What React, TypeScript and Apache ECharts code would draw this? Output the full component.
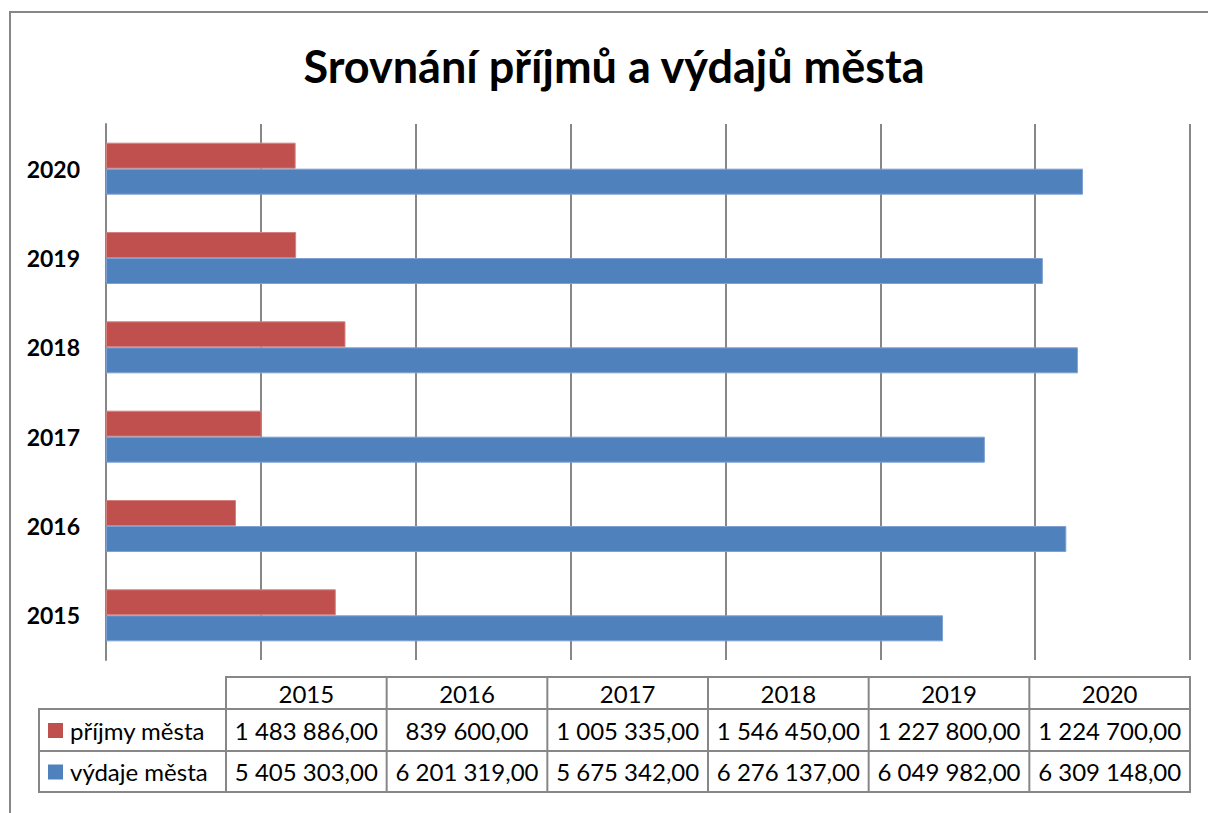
import React, { useEffect, useRef } from "react";
import * as echarts from "echarts";

const titleText = "Srovnání příjmů a výdajů města";
const years = ["2015", "2016", "2017", "2018", "2019", "2020"];
const seriesNames = ["příjmy města", "výdaje města"];
const prijmy = [1483886, 839600, 1005335, 1546450, 1227800, 1224700];
const vydaje = [5405303, 6201319, 5675342, 6276137, 6049982, 6309148];
const xTicks = { min: 0, max: 7000000, interval: 1000000 };

const RED = "#C0504D";
const BLUE = "#4F81BD";
const GRAY = "#878787";
const FONT = "Lato, 'Open Sans', sans-serif";

function fmt(v: number): string {
  const [intPart, dec] = v.toFixed(2).split(".");
  const groups: string[] = [];
  for (let i = intPart.length; i > 0; i -= 3) groups.unshift(intPart.slice(Math.max(0, i - 3), i));
  return groups.join(" ") + "," + dec;
}

function buildTable(): any[] {
  const els: any[] = [];
  const x0 = 226;
  const x1 = 1190;
  const legX = 39;
  const colW = (x1 - x0) / years.length;
  const yH0 = 677, yH1 = 709, yR1 = 751, yR2 = 792;
  const line = (ax: number, ay: number, bx: number, by: number) => ({
    type: "line",
    shape: { x1: ax, y1: ay, x2: bx, y2: by },
    style: { stroke: GRAY, lineWidth: 2 },
    silent: true,
  });
  els.push(line(x0 - 1, yH0, x1 + 1, yH0));
  els.push(line(legX - 1, yH1, x1 + 1, yH1));
  els.push(line(legX - 1, yR1, x1 + 1, yR1));
  els.push(line(legX - 1, yR2, x1 + 1, yR2));
  els.push(line(legX, yH1, legX, yR2));
  for (let i = 0; i <= years.length; i++) {
    const x = x0 + i * colW;
    els.push(line(x, yH0, x, yR2));
  }
  const textStyle = (t: string, x: number, y: number, align = "center") => ({
    type: "text",
    x,
    y,
    style: {
      text: t,
      fill: "#000",
      font: `24px ${FONT}`,
      textAlign: align,
      textVerticalAlign: "middle",
    },
    silent: true,
  });
  const rowsY = [(yH1 + yR1) / 2, (yR1 + yR2) / 2];
  const rows = [prijmy, vydaje];
  const colors = [RED, BLUE];
  years.forEach((y, i) => {
    const cx = x0 + (i + 0.5) * colW;
    els.push(textStyle(y, cx, (yH0 + yH1) / 2));
    rows.forEach((r, k) => els.push(textStyle(fmt(r[i]), cx, rowsY[k])));
  });
  seriesNames.forEach((n, k) => {
    els.push({
      type: "rect",
      shape: { x: 48, y: rowsY[k] - 7, width: 15, height: 15 },
      style: { fill: colors[k] },
      silent: true,
    });
    els.push(textStyle(n, 70, rowsY[k], "left"));
  });
  return els;
}

export default function App() {
  const ref = useRef<HTMLDivElement>(null);
  useEffect(() => {
    if (!ref.current) return;
    const chart = echarts.init(ref.current, undefined, { renderer: "svg" });
    chart.setOption({
      animation: false,
      backgroundColor: "#fff",
      title: {
        text: titleText,
        left: 609,
        top: 38,
        textAlign: "center",
        textStyle: { fontFamily: FONT, fontWeight: "bold", fontSize: 45, color: "#000" },
      },
      grid: { left: 106, right: 18, top: 124, bottom: 153, containLabel: false },
      xAxis: {
        type: "value",
        min: xTicks.min,
        max: xTicks.max,
        interval: xTicks.interval,
        axisLabel: { show: false },
        axisLine: { show: false },
        axisTick: { show: false },
        splitLine: { show: true, lineStyle: { color: GRAY, width: 2 } },
      },
      yAxis: {
        type: "category",
        data: years,
        axisLine: { show: true, lineStyle: { color: GRAY, width: 2 } },
        axisTick: { show: false },
        axisLabel: {
          margin: 26,
          fontFamily: FONT,
          fontWeight: "bold",
          fontSize: 23,
          color: "#000",
        },
      },
      series: [
        {
          name: seriesNames[0],
          type: "bar",
          data: prijmy,
          barWidth: 26,
          barGap: "0%",
          itemStyle: { color: RED, borderColor: "#d5817e", borderWidth: 1 },
        },
        {
          name: seriesNames[1],
          type: "bar",
          data: vydaje,
          barWidth: 26,
          barGap: "0%",
          itemStyle: { color: BLUE, borderColor: "#7ea1d1", borderWidth: 1 },
        },
      ],
      graphic: [
        {
          type: "rect",
          shape: { x: 10, y: 12, width: 1240, height: 840 },
          style: { fill: "none", stroke: GRAY, lineWidth: 2 },
          silent: true,
        },
        ...buildTable(),
      ],
    });
    return () => chart.dispose();
  }, []);
  return (
    <div
      ref={ref}
      style={{ position: "absolute", left: 0, top: 0, width: 1208, height: 813 }}
    />
  );
}
